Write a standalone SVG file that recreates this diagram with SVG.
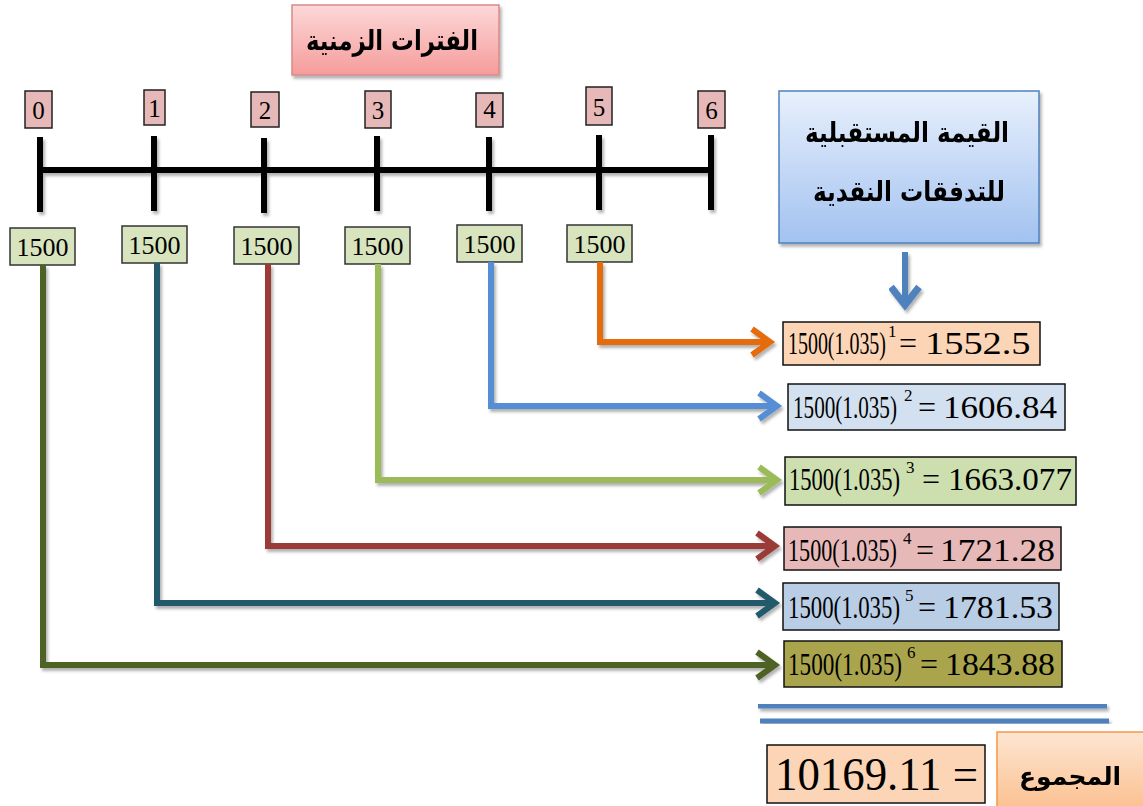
<svg xmlns="http://www.w3.org/2000/svg" width="1143" height="806" viewBox="0 0 1143 806">
<defs>
<style>
.ar{font-family:"DejaVu Sans","Noto Sans",sans-serif;font-weight:bold;fill:#000;text-anchor:middle}
.num{font-family:"Liberation Serif","Times New Roman",serif;fill:#000}
.eq{font-family:"Liberation Serif","Times New Roman",serif;fill:#000;font-size:32px}
.sup{font-family:"Liberation Serif","Times New Roman",serif;fill:#000;font-size:17px}
.per{fill:#e6b9b8;stroke:#222;stroke-width:1.5}
.amt{fill:#d7e4bd;stroke:#333;stroke-width:1.5}
.fbox{stroke:#111;stroke-width:1.5}
.con{fill:none;stroke-width:6;stroke-linejoin:miter}
.tl{stroke:#000;stroke-width:6;fill:none}
</style>
<filter id="sh" x="-10%" y="-10%" width="130%" height="130%">
<feDropShadow dx="2" dy="3" stdDeviation="1.5" flood-color="#000" flood-opacity="0.3"/>
</filter>
<linearGradient id="gTitle" x1="0" y1="0" x2="0" y2="1">
<stop offset="0" stop-color="#fcd8d8"/><stop offset="1" stop-color="#f59c9b"/>
</linearGradient>
<linearGradient id="gFv" x1="0" y1="0" x2="0" y2="1">
<stop offset="0" stop-color="#e8f0fc"/><stop offset="1" stop-color="#a2c2f0"/>
</linearGradient>
<linearGradient id="gSum" x1="0" y1="0" x2="0" y2="1">
<stop offset="0" stop-color="#fde6d2"/><stop offset="1" stop-color="#fbbf8e"/>
</linearGradient>
<marker id="aO" markerUnits="userSpaceOnUse" markerWidth="30" markerHeight="36" refX="22" refY="16" orient="auto"><path d="M3,3 L21,16 L3,29" fill="none" stroke="#e46c0a" stroke-width="6"/></marker>
<marker id="aB" markerUnits="userSpaceOnUse" markerWidth="30" markerHeight="36" refX="22" refY="16" orient="auto"><path d="M3,3 L21,16 L3,29" fill="none" stroke="#558ed5" stroke-width="6"/></marker>
<marker id="aG" markerUnits="userSpaceOnUse" markerWidth="30" markerHeight="36" refX="22" refY="16" orient="auto"><path d="M3,3 L21,16 L3,29" fill="none" stroke="#9bbb59" stroke-width="6"/></marker>
<marker id="aR" markerUnits="userSpaceOnUse" markerWidth="30" markerHeight="36" refX="22" refY="16" orient="auto"><path d="M3,3 L21,16 L3,29" fill="none" stroke="#9b3b38" stroke-width="6"/></marker>
<marker id="aT" markerUnits="userSpaceOnUse" markerWidth="30" markerHeight="36" refX="22" refY="16" orient="auto"><path d="M3,3 L21,16 L3,29" fill="none" stroke="#215a6c" stroke-width="6"/></marker>
<marker id="aV" markerUnits="userSpaceOnUse" markerWidth="30" markerHeight="36" refX="22" refY="16" orient="auto"><path d="M3,3 L21,16 L3,29" fill="none" stroke="#4f6228" stroke-width="6"/></marker>
<marker id="aD" markerUnits="userSpaceOnUse" markerWidth="36" markerHeight="30" refX="16" refY="22" orient="0"><path d="M2,3 L16,21 L30,3" fill="none" stroke="#4f81bd" stroke-width="7"/></marker>
</defs>
<rect width="1143" height="806" fill="#fff"/>

<g id="title" filter="url(#sh)">
<rect x="292" y="5" width="207" height="70" fill="url(#gTitle)" stroke="#d88a89" stroke-width="1.5"/>
<text class="ar" x="392" y="50" font-size="28" textLength="172" lengthAdjust="spacingAndGlyphs">الفترات الزمنية</text>
</g>

<g id="timeline" filter="url(#sh)">
<path class="tl" d="M38,170 H714"/>
<path class="tl" d="M40,137 V212 M154,136 V211 M264,138 V213 M377,136 V211 M489,137 V211 M599,135 V210 M711,135 V210"/>
</g>

<g id="periods" class="num" font-size="25" text-anchor="middle">
<g id="p0"><rect class="per" x="25" y="91" width="27" height="37"/><text x="38.5" y="119">0</text></g>
<g id="p1"><rect class="per" x="144" y="90" width="21" height="35"/><text x="154.5" y="117">1</text></g>
<g id="p2"><rect class="per" x="251" y="92" width="28" height="35"/><text x="265" y="119">2</text></g>
<g id="p3"><rect class="per" x="365" y="91" width="26" height="37"/><text x="378" y="119">3</text></g>
<g id="p4"><rect class="per" x="476" y="93" width="27" height="34"/><text x="489.5" y="118">4</text></g>
<g id="p5"><rect class="per" x="586" y="87" width="26" height="38"/><text x="599" y="116">5</text></g>
<g id="p6"><rect class="per" x="698" y="91" width="27" height="37"/><text x="711.5" y="119">6</text></g>
</g>

<g id="amounts" class="num" font-size="26" text-anchor="middle">
<g id="c0"><rect class="amt" x="10" y="228" width="65" height="37"/><text x="42.5" y="256">1500</text></g>
<g id="c1"><rect class="amt" x="122" y="226" width="65" height="37"/><text x="154.5" y="254">1500</text></g>
<g id="c2"><rect class="amt" x="234" y="227" width="65" height="37"/><text x="266.5" y="255">1500</text></g>
<g id="c3"><rect class="amt" x="345" y="227" width="65" height="37"/><text x="377.5" y="255">1500</text></g>
<g id="c4"><rect class="amt" x="457" y="225" width="65" height="37"/><text x="489.5" y="253">1500</text></g>
<g id="c5"><rect class="amt" x="567" y="225" width="65" height="37"/><text x="599.5" y="253">1500</text></g>
</g>

<g id="connectors" filter="url(#sh)">
<path class="con" stroke="#e46c0a" d="M600,262 V342 H771" marker-end="url(#aO)"/>
<path class="con" stroke="#558ed5" d="M491,262 V406 H778" marker-end="url(#aB)"/>
<path class="con" stroke="#9bbb59" d="M378,264 V480 H778" marker-end="url(#aG)"/>
<path class="con" stroke="#9b3b38" d="M268,264 V546 H776" marker-end="url(#aR)"/>
<path class="con" stroke="#215a6c" d="M157,263 V603 H776" marker-end="url(#aT)"/>
<path class="con" stroke="#4f6228" d="M43,265 V665 H776" marker-end="url(#aV)"/>
<path class="con" stroke="#4f81bd" stroke-width="7" d="M905,252 V306" marker-end="url(#aD)"/>
</g>

<g id="fv-title" filter="url(#sh)">
<rect x="779" y="91" width="260" height="152" fill="url(#gFv)" stroke="#4f81bd" stroke-width="1.5"/>
<text class="ar" x="907" y="142" font-size="28" textLength="204" lengthAdjust="spacingAndGlyphs">القيمة المستقبلية</text>
<text class="ar" x="909" y="201" font-size="28" textLength="192" lengthAdjust="spacingAndGlyphs">للتدفقات النقدية</text>
</g>

<g id="f1"><rect class="fbox" x="783" y="322" width="257" height="43" fill="#fbd5b5"/>
<text class="eq" transform="translate(788,354) scale(0.623,1)">1500(1.035)</text>
<text class="sup" x="888" y="337">1</text>
<text class="eq" x="899" y="354">=</text>
<text class="eq" transform="translate(925,354) scale(1.2,1)">1552.5</text></g>

<g id="f2"><rect class="fbox" x="788" y="384" width="277" height="46" fill="#d3e0f0"/>
<text class="eq" transform="translate(793,418) scale(0.661,1)">1500(1.035)</text>
<text class="sup" x="904" y="401">2</text>
<text class="eq" x="918" y="418">=</text>
<text class="eq" transform="translate(943,418) scale(1.096,1)">1606.84</text></g>

<g id="f3"><rect class="fbox" x="785" y="457" width="291" height="48" fill="#cddfae"/>
<text class="eq" transform="translate(789,490) scale(0.706,1)">1500(1.035)</text>
<text class="sup" x="906" y="473">3</text>
<text class="eq" x="922" y="490">=</text>
<text class="eq" transform="translate(948,490) scale(1.033,1)">1663.077</text></g>

<g id="f4"><rect class="fbox" x="784" y="527" width="277" height="43" fill="#e6b9b8"/>
<text class="eq" transform="translate(788,561) scale(0.693,1)">1500(1.035)</text>
<text class="sup" x="903" y="544">4</text>
<text class="eq" x="916" y="561">=</text>
<text class="eq" transform="translate(940,561) scale(1.106,1)">1721.28</text></g>

<g id="f5"><rect class="fbox" x="783" y="583" width="276" height="47" fill="#b9cde5"/>
<text class="eq" transform="translate(788,618) scale(0.712,1)">1500(1.035)</text>
<text class="sup" x="905" y="601">5</text>
<text class="eq" x="918" y="618">=</text>
<text class="eq" transform="translate(943,618) scale(1.058,1)">1781.53</text></g>

<g id="f6"><rect class="fbox" x="784" y="641" width="278" height="46" fill="#aaa44c"/>
<text class="eq" transform="translate(788,675) scale(0.725,1)">1500(1.035)</text>
<text class="sup" x="907" y="658">6</text>
<text class="eq" x="920" y="675">=</text>
<text class="eq" transform="translate(945,675) scale(1.058,1)">1843.88</text></g>

<g id="rule" filter="url(#sh)">
<path d="M758,706 H1107 M760,721 H1109" stroke="#4f81bd" stroke-width="5" fill="none"/>
</g>

<g id="sum">
<rect class="fbox" x="767" y="745" width="218" height="58" fill="#fbd5b5"/>
<text class="num" x="775" y="790" font-size="46" textLength="203" lengthAdjust="spacingAndGlyphs">10169.11 =</text>
</g>

<g id="sum-label" filter="url(#sh)">
<rect x="997" y="732" width="160" height="80" fill="url(#gSum)" stroke="#f79646" stroke-width="1.5"/>
<text class="ar" x="1070" y="785" font-size="25">المجموع</text>
</g>
</svg>
